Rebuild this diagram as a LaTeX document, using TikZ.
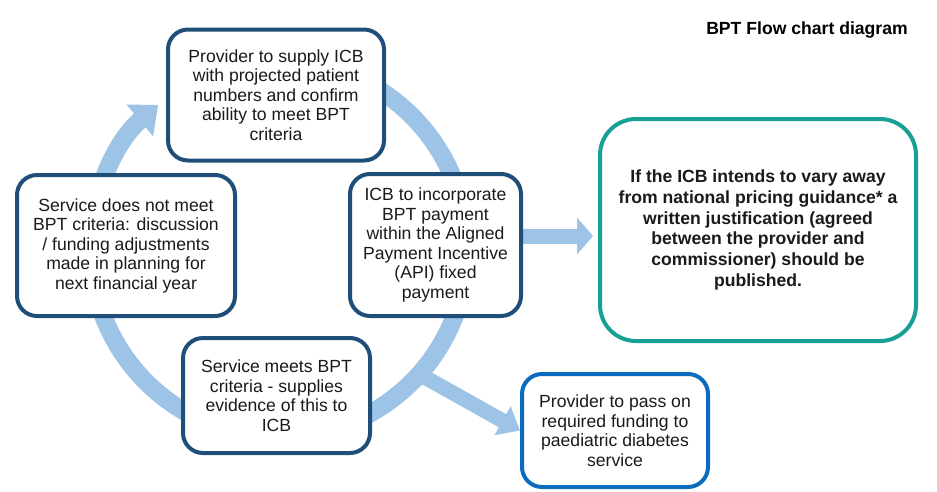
\documentclass[tikz,border=0pt]{standalone}
\usepackage{fontspec}
\setmainfont{Liberation Sans}
\usetikzlibrary{arrows.meta,backgrounds}
\definecolor{navy}{HTML}{1F4E79}
\definecolor{tealc}{HTML}{17A094}
\definecolor{bluec}{HTML}{0B6BBF}
\definecolor{arrowc}{HTML}{9DC3E6}
\definecolor{txt}{HTML}{1A1A1A}
\begin{document}
\begin{tikzpicture}[x=1pt,y=-1pt,
  box/.style={draw=navy,line width=4pt,rounded corners=20pt,fill=white,align=center,
    text=txt,font=\fontsize{17.6}{19.5}\selectfont,inner sep=0pt},
  tealbox/.style={box,draw=tealc,rounded corners=36pt,font=\bfseries\fontsize{17.6}{20.8}\selectfont},
  bluebox/.style={box,draw=bluec},
  fat/.style={draw=arrowc,line width=15pt},
  ring/.style={draw=arrowc,line width=18pt},
  title/.style={font=\bfseries\fontsize{17.6}{20}\selectfont,text=black,inner sep=0pt}
]
\useasboundingbox (0,0) rectangle (937,491);

\node[title] (ttl) at (807,30) {BPT Flow chart diagram};

\node[box,minimum width=216pt,minimum height=131pt] (top) at (276,95)
  {Provider to supply ICB\\with projected patient\\numbers and confirm\\ability to meet BPT\\criteria};
\node[box,minimum width=218pt,minimum height=141pt] (left) at (126,245.5)
  {Service does not meet\\BPT criteria: discussion\\/ funding adjustments\\made in planning for\\next financial year};
\node[box,minimum width=171pt,minimum height=142pt] (icb) at (435.5,245)
  {ICB to incorporate\\BPT payment\\within the Aligned\\Payment Incentive\\(API) fixed\\payment};
\node[box,minimum width=187pt,minimum height=115pt] (bot) at (276.5,395.5)
  {Service meets BPT\\criteria - supplies\\evidence of this to\\ICB};
\node[tealbox,minimum width=316pt,minimum height=222pt] (teal) at (758,230)
  {If the ICB intends to vary away\\from national pricing guidance* a\\written justification (agreed\\between the provider and\\commissioner) should be\\published.};
\node[bluebox,minimum width=186pt,minimum height=113pt] (blue) at (615,430.5)
  {Provider to pass on\\required funding to\\paediatric diabetes\\service};

\coordinate (c) at (279,249);
\path (c) ++(42:184) coordinate (junc);

\begin{scope}[on background layer]
  \draw[ring,-{Triangle[length=24pt,width=40pt]}] (c) ++(-90:188) arc[start angle=-90,end angle=230,radius=188];
  \draw[fat,-{Triangle[length=20pt,width=32pt]}] (junc) -- (blue.west);
  \draw[fat,-{Triangle[length=16pt,width=36pt]},shorten >=5pt] ([yshift=9pt]icb.east) -- ([yshift=9pt]icb.east -| teal.west);
\end{scope}
\end{tikzpicture}
\end{document}
